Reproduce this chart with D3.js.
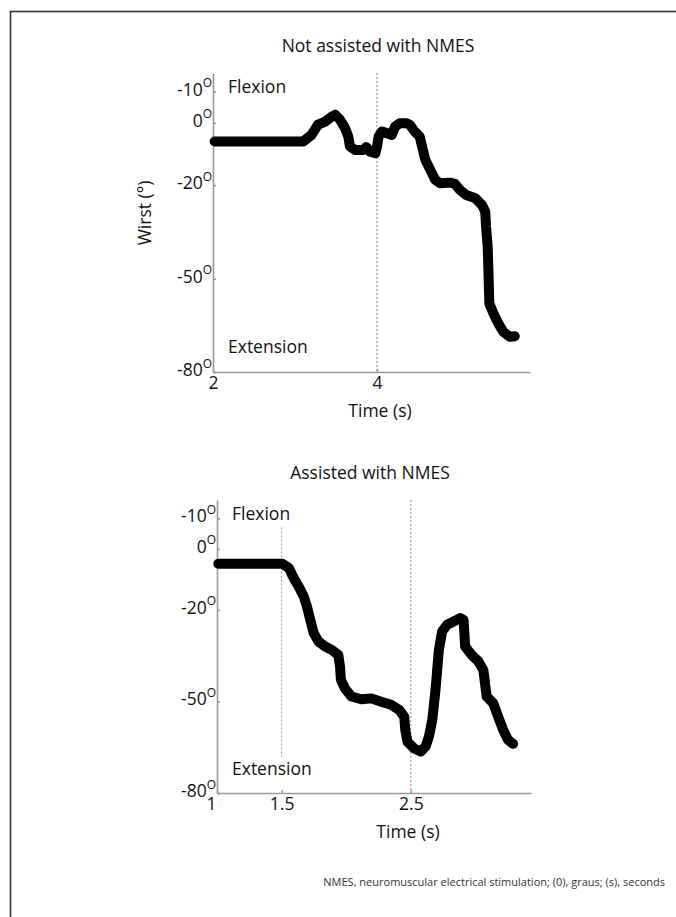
<!DOCTYPE html>
<html lang="en">
<head>
<meta charset="utf-8">
<style>
  body { margin: 0; background: #fff; }
  svg text { font-family: 'Open Sans', 'Noto Sans', sans-serif; fill: #111; }
  .axis path, .axis line { stroke: #9a9a9a; stroke-width: 1.6; }
  .axis text { font-size: 17.5px; }
</style>
</head>
<body>
<div id="chart"></div>
<script src="https://d3js.org/d3.v7.min.js"></script>
<script>
// wrist angle traces (time in s, angle in degrees)
const topTime = [2.02, 3.10, 3.20, 3.28, 3.37, 3.45, 3.49, 3.55, 3.61, 3.65, 3.67, 3.73, 3.83, 3.87, 3.91, 3.98,
  4.00, 4.02, 4.06, 4.12, 4.18, 4.22, 4.28, 4.36, 4.40, 4.46, 4.52, 4.56, 4.59, 4.65, 4.71, 4.77, 4.89, 4.95,
  5.01, 5.09, 5.20, 5.28, 5.32, 5.33, 5.35, 5.36, 5.37, 5.42, 5.48, 5.54, 5.62, 5.68];
const topAngle = [-6.0, -6.0, -3.9, -0.6, 0.4, 2.0, 2.6, 1.0, -1.7, -4.4, -7.6, -8.7, -8.7, -7.8, -9.2, -9.8,
  -7.6, -4.4, -2.8, -3.3, -3.9, -1.2, -0.1, -0.1, -0.6, -2.8, -4.4, -8.7, -11.9, -15.1, -18.3, -19.4, -19.2, -19.6,
  -21.5, -23.2, -24.2, -26.4, -28.5, -33.3, -39.8, -48.3, -58.0, -61.2, -64.4, -67.1, -68.7, -68.5];

const bottomTime = [1.01, 1.505, 1.556, 1.594, 1.633, 1.671, 1.696, 1.722, 1.748, 1.786, 1.837, 1.888, 1.939,
  1.952, 1.959, 1.990, 2.041, 2.117, 2.194, 2.270, 2.347, 2.411, 2.449, 2.457, 2.474, 2.526, 2.577, 2.614,
  2.640, 2.666, 2.691, 2.717, 2.742, 2.780, 2.832, 2.882, 2.908, 2.913, 2.920, 2.972, 3.023, 3.061, 3.074,
  3.087, 3.138, 3.176, 3.214, 3.253, 3.291];
const bottomAngle = [-4.9, -4.9, -6.3, -9.6, -12.4, -15.6, -18.9, -23.3, -27.6, -30.4, -32.0, -33.1, -34.8,
  -38.6, -42.9, -45.7, -48.4, -49.3, -49.0, -50.1, -51.1, -52.8, -55.0, -59.3, -63.2, -65.4, -66.4, -64.8,
  -61.5, -56.1, -46.2, -33.1, -27.1, -24.9, -23.8, -22.7, -23.3, -26.6, -32.0, -34.8, -36.9, -39.7, -44.0,
  -48.4, -50.6, -55.0, -59.3, -62.6, -63.9];

// y ticks (the figure labels its +10 tick as "-10")
const yTickValues = [10, 0, -20, -50, -80];
const yTickLabels = ['-10', '0', '-20', '-50', '-80'];
const topXTicks = [2, 4];
const bottomXTicks = [1, 1.5, 2.5];
const topMarkers = [4];
const bottomMarkers = [1.5, 2.5];

const width = 676, height = 917;
const svg = d3.select('#chart').append('svg')
  .attr('width', width).attr('height', height);

// frame round the figure
svg.append('rect')
  .attr('x', 10.5).attr('y', 11.5)
  .attr('width', 700).attr('height', 950)
  .attr('fill', 'none').attr('stroke', '#333').attr('stroke-width', 1.6);

function drawPanel(p) {
  const x = d3.scaleLinear().domain(p.xDomain).range([p.left, p.right]);
  const y = d3.scaleLinear().domain([16, -80]).range([p.top, p.bottom]);
  const g = svg.append('g');

  // dotted time markers
  g.selectAll('.marker')
    .data(p.markers)
    .enter().append('line')
    .attr('x1', d => x(d.t)).attr('x2', d => x(d.t))
    .attr('y1', d => y(d.from)).attr('y2', d => y(d.to))
    .attr('stroke', '#8a8a8a').attr('stroke-width', 1)
    .attr('stroke-dasharray', '2,2');

  const yAxis = g.append('g').attr('class', 'axis')
    .attr('transform', `translate(${p.left},0)`)
    .call(d3.axisLeft(y).tickValues(yTickValues).tickSize(-3).tickSizeOuter(0)
      .tickFormat((d, i) => yTickLabels[i]));
  yAxis.selectAll('.tick text').attr('dy', '0.2em')
    .append('tspan').attr('font-size', 12).attr('dy', '-0.7em').text('O');
  yAxis.selectAll('.tick text').attr('text-anchor', 'end').attr('x', -1);

  const xAxis = g.append('g').attr('class', 'axis')
    .attr('transform', `translate(0,${p.bottom})`)
    .call(d3.axisBottom(x).tickValues(p.xTicks).tickSize(-3).tickSizeOuter(0).tickPadding(5)
      .tickFormat(d3.format('')));
  xAxis.selectAll('.tick text').filter(d => d === p.xDomain[0]).attr('dx', p.firstDx);

  const line = d3.line().x(d => x(d[0])).y(d => y(d[1]));
  g.append('path')
    .datum(d3.zip(p.time, p.angle))
    .attr('d', line)
    .attr('fill', 'none').attr('stroke', '#000')
    .attr('stroke-width', 10)
    .attr('stroke-linejoin', 'round').attr('stroke-linecap', 'round');

  g.append('text').attr('x', p.titleX).attr('y', p.top - 21)
    .attr('text-anchor', 'middle').style('font-size', '17.5px').text(p.title);
  g.append('text').attr('x', p.left + 15).attr('y', y(9.5))
    .style('font-size', '17.5px').text('Flexion');
  g.append('text').attr('x', p.left + 15).attr('y', y(-74))
    .style('font-size', '17.5px').text('Extension');
  g.append('text').attr('x', p.labelX).attr('y', p.bottom + 45)
    .attr('text-anchor', 'middle').style('font-size', '17.5px').text('Time (s)');
  return { x, y };
}

drawPanel({
  title: 'Not assisted with NMES', titleX: 378, labelX: 380,
  left: 213, right: 530, top: 73, bottom: 372,
  xDomain: [2, 5.866], xTicks: topXTicks, firstDx: 0,
  time: topTime, angle: topAngle,
  markers: topMarkers.map(t => ({ t, from: 16, to: -80 }))
});

drawPanel({
  title: 'Assisted with NMES', titleX: 370, labelX: 408,
  left: 217, right: 531, top: 500, bottom: 793,
  xDomain: [1, 3.43], xTicks: bottomXTicks, firstDx: -6,
  time: bottomTime, angle: bottomAngle,
  markers: bottomMarkers.map((t, i) => ({ t, from: i === 0 ? 7 : 16, to: i === 0 ? -68 : -80 }))
});

// y label (top panel only)
svg.append('text')
  .attr('transform', 'translate(151,213) rotate(-90)')
  .attr('text-anchor', 'middle').style('font-size', '17.5px')
  .text('Wirst (°)');

svg.append('text')
  .attr('x', 665).attr('y', 886)
  .attr('text-anchor', 'end').style('font-size', '11px').style('fill', '#333')
  .text('NMES, neuromuscular electrical stimulation; (0), graus; (s), seconds');
</script>
</body>
</html>
